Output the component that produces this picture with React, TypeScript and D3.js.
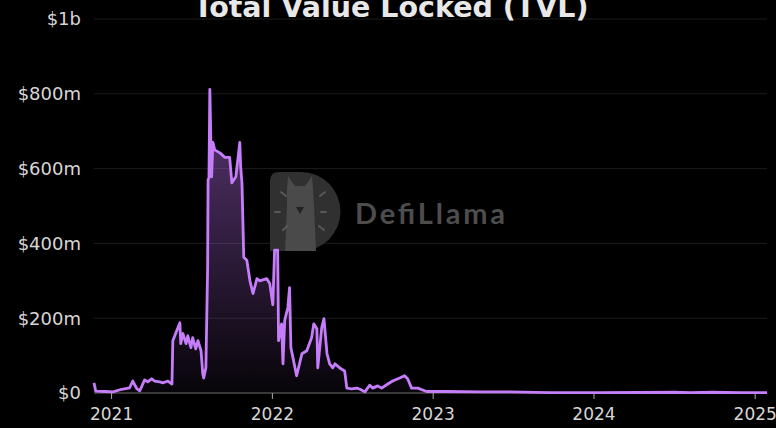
import { useEffect, useRef } from "react";
import * as d3 from "d3";

// TVL series (values in $m)
const dates = [
  "2020-11-22", "2020-11-26", "2020-12-17", "2021-01-04", "2021-01-24", "2021-02-11", "2021-02-18",
  "2021-02-27", "2021-03-06", "2021-03-17", "2021-03-24", "2021-04-02", "2021-04-09", "2021-04-20",
  "2021-04-27", "2021-05-09", "2021-05-18", "2021-05-20", "2021-05-29", "2021-06-05", "2021-06-07",
  "2021-06-12", "2021-06-19", "2021-06-23", "2021-06-30", "2021-07-04", "2021-07-11", "2021-07-16",
  "2021-07-23", "2021-07-27", "2021-07-29", "2021-08-03", "2021-08-07", "2021-08-08", "2021-08-10",
  "2021-08-12", "2021-08-16", "2021-08-19", "2021-08-23", "2021-09-04", "2021-09-15", "2021-09-26",
  "2021-10-01", "2021-10-10", "2021-10-19", "2021-10-21", "2021-10-24", "2021-10-28", "2021-11-04",
  "2021-11-11", "2021-11-18", "2021-11-27", "2021-12-03", "2021-12-19", "2021-12-26", "2022-01-02",
  "2022-01-06", "2022-01-13", "2022-01-15", "2022-01-22", "2022-01-25", "2022-01-29", "2022-02-05",
  "2022-02-09", "2022-02-12", "2022-02-14", "2022-02-25", "2022-03-09", "2022-03-20", "2022-03-31",
  "2022-04-05", "2022-04-12", "2022-04-14", "2022-04-23", "2022-04-28", "2022-05-05", "2022-05-11",
  "2022-05-18", "2022-05-23", "2022-06-03", "2022-06-14", "2022-06-19", "2022-06-30", "2022-07-12",
  "2022-07-19", "2022-07-30", "2022-08-10", "2022-08-17", "2022-08-28", "2022-09-06", "2022-09-20",
  "2022-10-01", "2022-10-17", "2022-10-28", "2022-11-04", "2022-11-13", "2022-11-27", "2022-12-17",
  "2022-12-31", "2023-02-01", "2023-04-17", "2023-06-24", "2023-09-23", "2024-01-15", "2024-07-03",
  "2024-08-06", "2024-09-25", "2024-11-28", "2025-01-28",
];
const tvl = [
  27, 5, 4, 3, 10, 14, 32, 12, 6, 35, 30, 38, 32, 30, 27, 32, 24, 140, 167, 188, 132, 159, 132, 153,
  121, 148, 118, 140, 113, 51, 40, 67, 336, 570, 575, 812, 578, 670, 650, 642, 630, 630, 562, 578, 670,
  605, 560, 363, 355, 300, 266, 306, 300, 306, 293, 236, 382, 382, 140, 185, 78, 194, 228, 282, 121,
  110, 46, 105, 113, 148, 185, 172, 67, 175, 199, 105, 78, 67, 78, 67, 59, 13, 11, 13, 10, 3, 21, 13,
  19, 13, 24, 32, 40, 46, 38, 13, 13, 4, 4, 4, 3, 3, 1, 1, 2, 1, 2, 1, 1,
];
const yTicks = [0, 200, 400, 600, 800, 1000];
const yearTicks = ["2021", "2022", "2023", "2024", "2025"];

const App = () => {
  const ref = useRef(null);
  const width = 776;
  const height = 428;
  const plotLeft = 94;
  const plotRight = 767;

  useEffect(() => {
    const svg = d3.select(ref.current);
    svg.selectAll("*").remove();
    const parse = d3.utcParse("%Y-%m-%d");
    const data = dates.map((d, i) => ({ date: parse(d), v: tvl[i] }));

    const x = d3
      .scaleUtc()
      .domain([parse("2021-01-01"), parse("2025-01-01")])
      .range([111.6, 755.2]);
    const y = d3.scaleLinear().domain([0, 1000]).range([393, 19]);

    svg.append("rect").attr("width", width).attr("height", height).attr("fill", "#000");

    const defs = svg.append("defs");
    const grad = defs
      .append("linearGradient")
      .attr("id", "tvlFill")
      .attr("gradientUnits", "userSpaceOnUse")
      .attr("x1", 0)
      .attr("x2", 0)
      .attr("y1", y(812))
      .attr("y2", y(0));
    grad.append("stop").attr("offset", 0).attr("stop-color", "#b66ee8").attr("stop-opacity", 0.5);
    grad.append("stop").attr("offset", 1).attr("stop-color", "#b66ee8").attr("stop-opacity", 0.04);

    // grid
    svg
      .append("g")
      .selectAll("line")
      .data(yTicks.filter((t) => t > 0))
      .join("line")
      .attr("x1", plotLeft)
      .attr("x2", plotRight)
      .attr("y1", (d) => y(d))
      .attr("y2", (d) => y(d))
      .attr("stroke", "#1c1c1c")
      .attr("stroke-width", 1);

    // y labels
    svg
      .append("g")
      .selectAll("text")
      .data(yTicks)
      .join("text")
      .attr("x", 81)
      .attr("y", (d) => y(d))
      .attr("dy", "0.35em")
      .attr("text-anchor", "end")
      .attr("fill", "#d6d6d6")
      .attr("font-family", "DejaVu Sans")
      .attr("font-size", 18)
      .text((d) => (d === 1000 ? "$1b" : d === 0 ? "$0" : `$${d}m`));

    // watermark
    const wm = svg.append("g");
    wm.append("path")
      .attr("d", "M270,181 Q270,172 279,172 L301,172 A39.5,39.5 0 0 1 301,251 L270,251 Z")
      .attr("fill", "#303030");
    wm.append("path")
      .attr(
        "d",
        "M288,176 L295,186 L305,186 L312,176 L313,190 L314,206 L316,251 L285,251 L287,206 L287,190 Z"
      )
      .attr("fill", "#4a4a4a");
    wm.append("path").attr("d", "M296,207 L304,207 L300,214 Z").attr("fill", "#222");
    const marks = [
      [281, 192, 286, 196],
      [275, 212, 280, 212],
      [283, 230, 287, 226],
      [320, 196, 325, 192],
      [321, 212, 326, 212],
      [319, 226, 324, 230],
    ];
    wm.selectAll("line.mark")
      .data(marks)
      .join("line")
      .attr("x1", (d) => d[0])
      .attr("y1", (d) => d[1])
      .attr("x2", (d) => d[2])
      .attr("y2", (d) => d[3])
      .attr("stroke", "#585858")
      .attr("stroke-width", 2)
      .attr("stroke-linecap", "round");
    wm.append("text")
      .attr("x", 355)
      .attr("y", 224)
      .attr("font-family", "Lato")
      .attr("font-weight", "bold")
      .attr("font-size", 29)
      .attr("textLength", 150)
      .attr("fill", "#4d4d4d")
      .text("DefiLlama");

    // area + line
    const area = d3
      .area()
      .x((d) => x(d.date))
      .y0(y(0))
      .y1((d) => y(d.v));
    const line = d3
      .line()
      .x((d) => x(d.date))
      .y((d) => y(d.v));
    svg.append("path").datum(data).attr("d", area).attr("fill", "url(#tvlFill)");

    // x axis
    const xAxis = svg.append("g").attr("transform", `translate(0,${y(0)})`);
    xAxis
      .append("line")
      .attr("x1", plotLeft)
      .attr("x2", plotRight)
      .attr("stroke", "#6e6e6e");
    const yearDates = yearTicks.map((t) => parse(`${t}-01-01`));
    xAxis
      .selectAll("line.tick")
      .data(yearDates)
      .join("line")
      .attr("class", "tick")
      .attr("x1", (d) => x(d))
      .attr("x2", (d) => x(d))
      .attr("y1", 0)
      .attr("y2", 6)
      .attr("stroke", "#aaa");
    xAxis
      .selectAll("text")
      .data(yearDates)
      .join("text")
      .attr("x", (d) => x(d))
      .attr("y", 27)
      .attr("text-anchor", "middle")
      .attr("fill", "#d6d6d6")
      .attr("font-family", "DejaVu Sans")
      .attr("font-size", 17)
      .text((d) => d3.utcFormat("%Y")(d));

    svg
      .append("path")
      .datum(data)
      .attr("d", line)
      .attr("fill", "none")
      .attr("stroke", "#c67dfa")
      .attr("stroke-width", 2.8)
      .attr("stroke-linejoin", "round");

    svg
      .append("text")
      .attr("x", 391)
      .attr("y", 17)
      .attr("text-anchor", "middle")
      .attr("fill", "#e8e8e8")
      .attr("font-family", "DejaVu Sans")
      .attr("font-weight", "bold")
      .attr("font-size", 28.5)
      .text("Total Value Locked (TVL)");
  }, []);

  return (
    <svg
      ref={ref}
      width={width}
      height={height}
      style={{ position: "absolute", left: 0, top: 0, display: "block" }}
    ></svg>
  );
};

export default App;
